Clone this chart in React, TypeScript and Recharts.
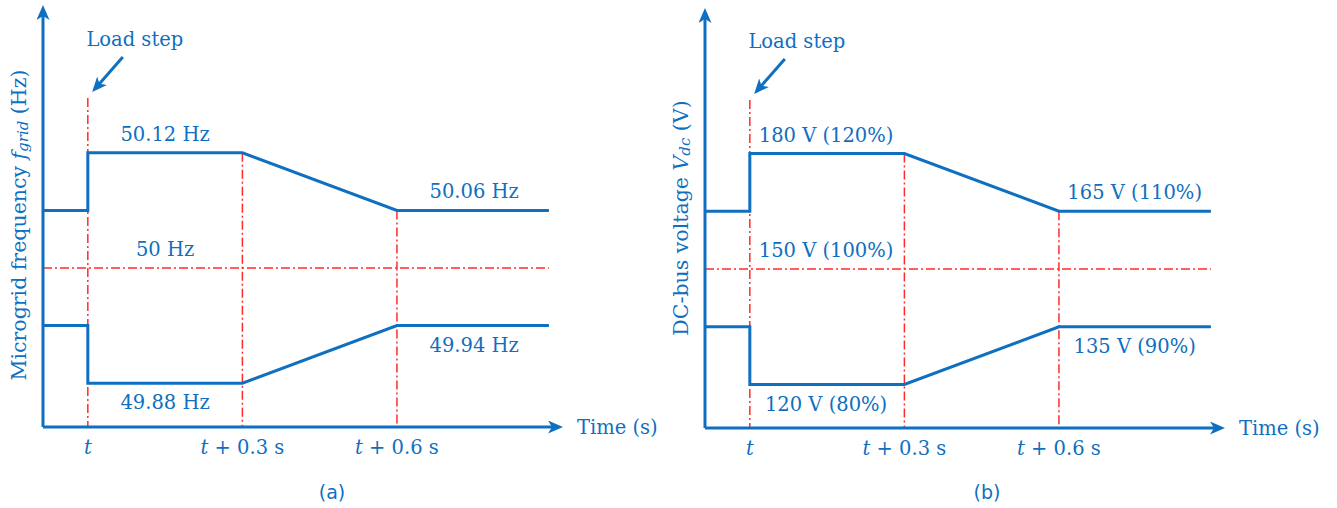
import React from 'react';
import { LineChart, Line, XAxis, YAxis, ReferenceLine, ReferenceDot } from 'recharts';

const BLUE = '#0f6fc0';
const RED = '#ff2b2b';
const SERIF = '"DejaVu Serif", serif';
const FS = 19.5;
const DASHDOT = '9 3 2 3';

// time measured from the load step (s)
const timePoints = [-0.087, 0, 0, 0.3, 0.6, 0.895];
const timeTicks = [0, 0.3, 0.6];

// (a) microgrid frequency (Hz)
const freqUpper = [50.06, 50.06, 50.12, 50.12, 50.06, 50.06];
const freqLower = [49.94, 49.94, 49.88, 49.88, 49.94, 49.94];
const freqNominal = 50;
const freqStepMark = 50.177;
const freqLabels = [
  { t: 0.15, v: 50.12, text: '50.12 Hz', below: false },
  { t: 0.15, v: 50, text: '50 Hz', below: false },
  { t: 0.15, v: 49.88, text: '49.88 Hz', below: true },
  { t: 0.75, v: 50.06, text: '50.06 Hz', below: false },
  { t: 0.75, v: 49.94, text: '49.94 Hz', below: true },
];

// (b) dc-bus voltage (V)
const vdcUpper = [165, 165, 180, 180, 165, 165];
const vdcLower = [135, 135, 120, 120, 135, 135];
const vdcNominal = 150;
const vdcStepMark = 193.9;
const vdcLabels = [
  { t: 0.148, v: 180, text: '180 V (120%)', below: false },
  { t: 0.148, v: 150, text: '150 V (100%)', below: false },
  { t: 0.148, v: 120, text: '120 V (80%)', below: true },
  { t: 0.747, v: 165, text: '165 V (110%)', below: false },
  { t: 0.747, v: 135, text: '135 V (90%)', below: true },
];

const W = 668;
const H = 508;
const PLOT_RIGHT = 559;
const X_AXIS_H = 30;

type LevelLabel = { t: number; v: number; text: string; below: boolean };

type PanelProps = {
  id: string;
  left: number;
  plotTop: number;
  plotBottom: number;
  yDomain: [number, number];
  upper: number[];
  lower: number[];
  nominal: number;
  stepMark: number;
  labels: LevelLabel[];
  yLabel: React.ReactNode;
  yLabelShift: number;
  caption: string;
  captionX: number;
};

const TimeTick = (props: any) => {
  const { x, y, payload } = props;
  const v = payload.value;
  return (
    <text x={x} y={y + 27} textAnchor="middle" fill={BLUE} fontFamily={SERIF} fontSize={FS}>
      <tspan fontStyle="italic">t</tspan>
      {v !== 0 && <tspan>{` + ${v} s`}</tspan>}
    </text>
  );
};

function Panel(p: PanelProps) {
  const xDomain: [number, number] = [timePoints[0], (PLOT_RIGHT - 88) / 515];
  const data = timePoints.map((t, i) => ({ t, upper: p.upper[i], lower: p.lower[i] }));
  const yMin = p.yDomain[0];
  const marker = `arrow-${p.id}`;

  return (
    <div style={{ position: 'absolute', left: p.left, top: 0, width: W, height: H }}>
      <LineChart
        width={W}
        height={H}
        data={data}
        margin={{ top: p.plotTop, right: W - PLOT_RIGHT, bottom: H - p.plotBottom - X_AXIS_H, left: 0 }}
      >
        <defs>
          <marker
            id={marker}
            viewBox="0 0 15 13"
            refX={11}
            refY={6.5}
            markerWidth={15}
            markerHeight={13}
            markerUnits="userSpaceOnUse"
            orient="auto-start-reverse"
          >
            <path d="M0,0 L15,6.5 L0,13 L4,6.5 Z" fill={BLUE} />
          </marker>
        </defs>
        <XAxis
          dataKey="t"
          type="number"
          domain={xDomain}
          allowDataOverflow
          ticks={timeTicks}
          tick={<TimeTick />}
          tickLine={false}
          tickSize={0}
          tickMargin={0}
          height={X_AXIS_H}
          axisLine={{ stroke: BLUE, strokeWidth: 3, markerEnd: `url(#${marker})` }}
          label={{
            content: (lp: any) => {
              const vb = lp.viewBox;
              return (
                <text x={vb.x + vb.width + 18} y={vb.y + 7} fill={BLUE} fontFamily={SERIF} fontSize={FS}>
                  Time (s)
                </text>
              );
            },
          }}
        />
        <YAxis
          type="number"
          domain={p.yDomain}
          allowDataOverflow
          width={43}
          tick={false}
          tickLine={false}
          axisLine={{ stroke: BLUE, strokeWidth: 3, markerStart: `url(#${marker})` }}
          label={{
            content: (lp: any) => {
              const vb = lp.viewBox;
              const cx = vb.x + vb.width - 24;
              const cy = vb.y + vb.height / 2 + p.yLabelShift;
              return (
                <text
                  x={cx}
                  y={cy}
                  transform={`rotate(-90 ${cx} ${cy})`}
                  textAnchor="middle"
                  dominantBaseline="central"
                  fill={BLUE}
                  fontFamily={SERIF}
                  fontSize={20.5}
                >
                  {p.yLabel}
                </text>
              );
            },
          }}
        />

        <ReferenceLine
          segment={[{ x: timePoints[0], y: p.nominal }, { x: timePoints[timePoints.length - 1], y: p.nominal }]}
          stroke={RED}
          strokeWidth={1.5}
          strokeDasharray={DASHDOT}
          ifOverflow="visible"
        />
        <ReferenceLine
          segment={[{ x: 0, y: p.stepMark }, { x: 0, y: yMin }]}
          stroke={RED}
          strokeWidth={1.5}
          strokeDasharray={DASHDOT}
          ifOverflow="visible"
        />
        <ReferenceLine
          segment={[{ x: 0.3, y: p.upper[3] }, { x: 0.3, y: yMin }]}
          stroke={RED}
          strokeWidth={1.5}
          strokeDasharray={DASHDOT}
          ifOverflow="visible"
        />
        <ReferenceLine
          segment={[{ x: 0.6, y: p.upper[4] }, { x: 0.6, y: yMin }]}
          stroke={RED}
          strokeWidth={1.5}
          strokeDasharray={DASHDOT}
          ifOverflow="visible"
        />

        <Line
          dataKey="upper"
          type="linear"
          stroke={BLUE}
          strokeWidth={3}
          strokeLinejoin="miter"
          dot={false}
          activeDot={false}
          isAnimationActive={false}
        />
        <Line
          dataKey="lower"
          type="linear"
          stroke={BLUE}
          strokeWidth={3}
          strokeLinejoin="miter"
          dot={false}
          activeDot={false}
          isAnimationActive={false}
        />

        {p.labels.map((l) => (
          <ReferenceDot
            key={l.text}
            x={l.t}
            y={l.v}
            r={1}
            fill="none"
            stroke="none"
            ifOverflow="visible"
            label={{
              content: (lp: any) => {
                const vb = lp.viewBox;
                const cx = vb.x + vb.width / 2;
                const cy = vb.y + vb.height / 2;
                return (
                  <text
                    x={cx}
                    y={cy + (l.below ? 19 : -19) + 7}
                    textAnchor="middle"
                    fill={BLUE}
                    fontFamily={SERIF}
                    fontSize={FS}
                  >
                    {l.text}
                  </text>
                );
              },
            }}
          />
        ))}

        <ReferenceDot
          x={0}
          y={p.stepMark}
          r={1}
          fill="none"
          stroke="none"
          ifOverflow="visible"
          label={{
            content: (lp: any) => {
              const vb = lp.viewBox;
              const cx = vb.x + vb.width / 2;
              const cy = vb.y + vb.height / 2;
              return (
                <g>
                  <text x={cx + 47} y={cy - 52} textAnchor="middle" fill={BLUE} fontFamily={SERIF} fontSize={FS}>
                    Load step
                  </text>
                  <line
                    x1={cx + 35}
                    y1={cy - 41}
                    x2={cx + 7}
                    y2={cy - 9}
                    stroke={BLUE}
                    strokeWidth={3}
                    markerEnd={`url(#${marker})`}
                  />
                </g>
              );
            },
          }}
        />
      </LineChart>
      <div
        style={{
          position: 'absolute',
          left: p.captionX - 40,
          width: 80,
          top: 480,
          textAlign: 'center',
          color: BLUE,
          fontFamily: '"DejaVu Sans", sans-serif',
          fontSize: 19,
          lineHeight: '24px',
        }}
      >
        {p.caption}
      </div>
    </div>
  );
}

export default function App() {
  return (
    <div style={{ position: 'absolute', left: 0, top: 0, width: 1337, height: 508, background: '#fff' }}>
      <Panel
        id="a"
        left={0}
        plotTop={9}
        plotBottom={427}
        yDomain={[50 - 159 / 960, 50 + 259 / 960]}
        upper={freqUpper}
        lower={freqLower}
        nominal={freqNominal}
        stepMark={freqStepMark}
        labels={freqLabels}
        yLabel={
          <>
            <tspan>Microgrid frequency </tspan>
            <tspan fontStyle="italic">f</tspan>
            <tspan fontStyle="italic" fontSize={15} dy={4}>grid</tspan>
            <tspan dy={-4}> (Hz)</tspan>
          </>
        }
        yLabelShift={7}
        caption="(a)"
        captionX={332}
      />
      <Panel
        id="b"
        left={662}
        plotTop={12}
        plotBottom={428}
        yDomain={[150 - 159 / 3.85, 150 + 257 / 3.85]}
        upper={vdcUpper}
        lower={vdcLower}
        nominal={vdcNominal}
        stepMark={vdcStepMark}
        labels={vdcLabels}
        yLabel={
          <>
            <tspan>DC-bus voltage </tspan>
            <tspan fontStyle="italic">V</tspan>
            <tspan fontStyle="italic" fontSize={15} dy={4}>dc</tspan>
            <tspan dy={-4}> (V)</tspan>
          </>
        }
        yLabelShift={-2}
        caption="(b)"
        captionX={325}
      />
    </div>
  );
}
